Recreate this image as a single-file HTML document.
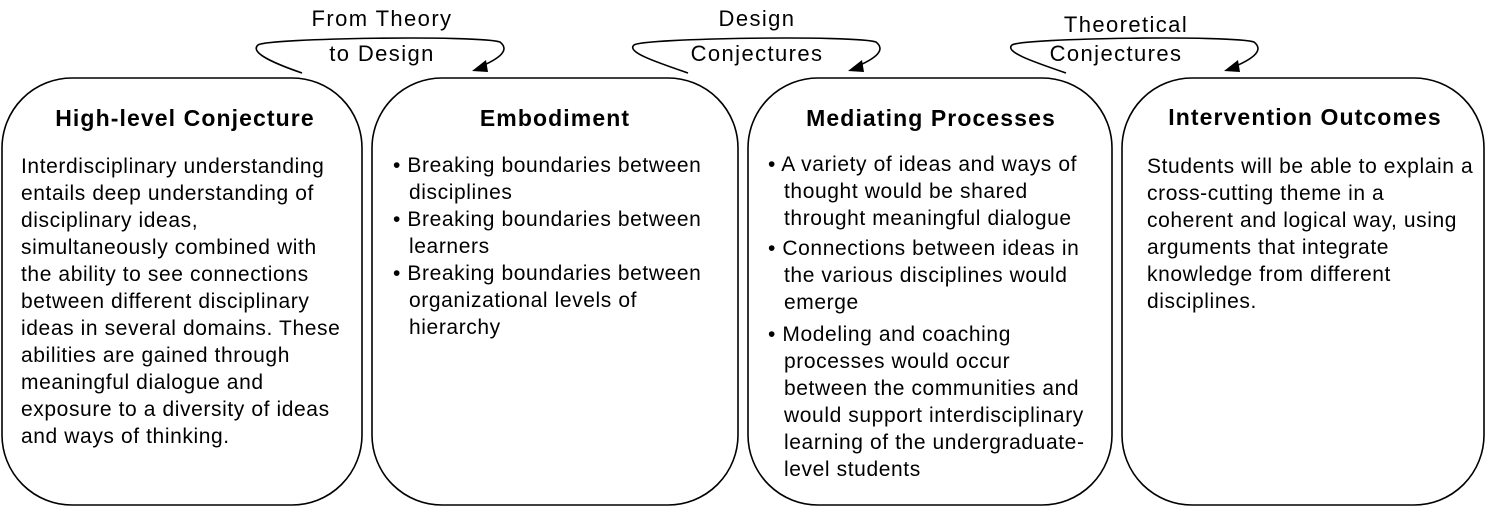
<!DOCTYPE html>
<html><head><style>
body{margin:0;width:1488px;height:512px;background:#fff;position:relative;overflow:hidden;font-family:"Liberation Sans",Arial,sans-serif;color:#000}
.t{position:absolute;font-size:21px;letter-spacing:0.6px;line-height:27px;white-space:nowrap}
.h{position:absolute;font-size:23px;letter-spacing:1.1px;font-weight:bold;white-space:nowrap;text-align:center}
.lbl{position:absolute;font-size:22px;letter-spacing:1.4px;white-space:nowrap;text-align:center}
.i{padding-left:16px}
</style></head><body>
<svg width="1488" height="512" style="position:absolute;left:0;top:0">
<g fill="none" stroke="#000" stroke-width="1.6">
<rect x="2" y="78" width="360" height="427" rx="70"/>
<rect x="372" y="78" width="366" height="427" rx="70"/>
<rect x="748" y="78" width="364" height="427" rx="70"/>
<rect x="1122" y="78" width="362" height="427" rx="70"/>
<path d="M302 73 C270 62 250 52 258 45 C268 38 480 35 500 42 C510 50 500 58 482 66"/>
<path d="M688 73 C656 62 626 52 634 45 C644 38 856 35 876 42 C886 50 876 58 858 66"/>
<path d="M1066 73 C1034 62 1004 52 1012 45 C1022 38 1234 35 1254 42 C1264 50 1254 58 1236 66"/>
</g>
<g fill="#000">
<polygon points="472,71 486,60 488,72"/>
<polygon points="848,71 862,60 864,72"/>
<polygon points="1224,71 1238,60 1240,72"/>
</g>
</svg>
<div class="lbl" style="left:282px;top:6px;width:200px">From Theory</div>
<div class="lbl" style="left:282px;top:41px;width:200px">to Design</div>
<div class="lbl" style="left:657px;top:6px;width:200px">Design</div>
<div class="lbl" style="left:657px;top:41px;width:200px">Conjectures</div>
<div class="lbl" style="left:1026px;top:12px;width:200px">Theoretical</div>
<div class="lbl" style="left:1016px;top:41px;width:200px">Conjectures</div>

<div class="h" style="left:2px;top:105px;width:366px">High-level Conjecture</div>
<div class="h" style="left:372px;top:105px;width:366px">Embodiment</div>
<div class="h" style="left:748px;top:105px;width:366px">Mediating Processes</div>
<div class="h" style="left:1122px;top:104px;width:366px">Intervention Outcomes</div>

<div class="t" style="left:21px;top:153px">Interdisciplinary understanding<br>entails deep understanding of<br>disciplinary ideas,<br>simultaneously combined with<br>the ability to see connections<br>between different disciplinary<br>ideas in several domains. These<br>abilities are gained through<br>meaningful dialogue and<br>exposure to a diversity of ideas<br>and ways of thinking.</div>

<div class="t" style="left:393px;top:152px">• Breaking boundaries between<br><span class="i">disciplines</span><br>• Breaking boundaries between<br><span class="i">learners</span><br>• Breaking boundaries between<br><span class="i">organizational levels of</span><br><span class="i">hierarchy</span></div>

<div class="t" style="left:768px;top:151px">• A variety of ideas and ways of<br><span class="i">thought would be shared</span><br><span class="i">throught meaningful dialogue</span></div>
<div class="t" style="left:768px;top:235px">• Connections between ideas in<br><span class="i">the various disciplines would</span><br><span class="i">emerge</span></div>
<div class="t" style="left:768px;top:321px">• Modeling and coaching<br><span class="i">processes would occur</span><br><span class="i">between the communities and</span><br><span class="i">would support interdisciplinary</span><br><span class="i">learning of the undergraduate-</span><br><span class="i">level students</span></div>

<div class="t" style="left:1147px;top:153px">Students will be able to explain a<br>cross-cutting theme in a<br>coherent and logical way, using<br>arguments that integrate<br>knowledge from different<br>disciplines.</div>
</body></html>
